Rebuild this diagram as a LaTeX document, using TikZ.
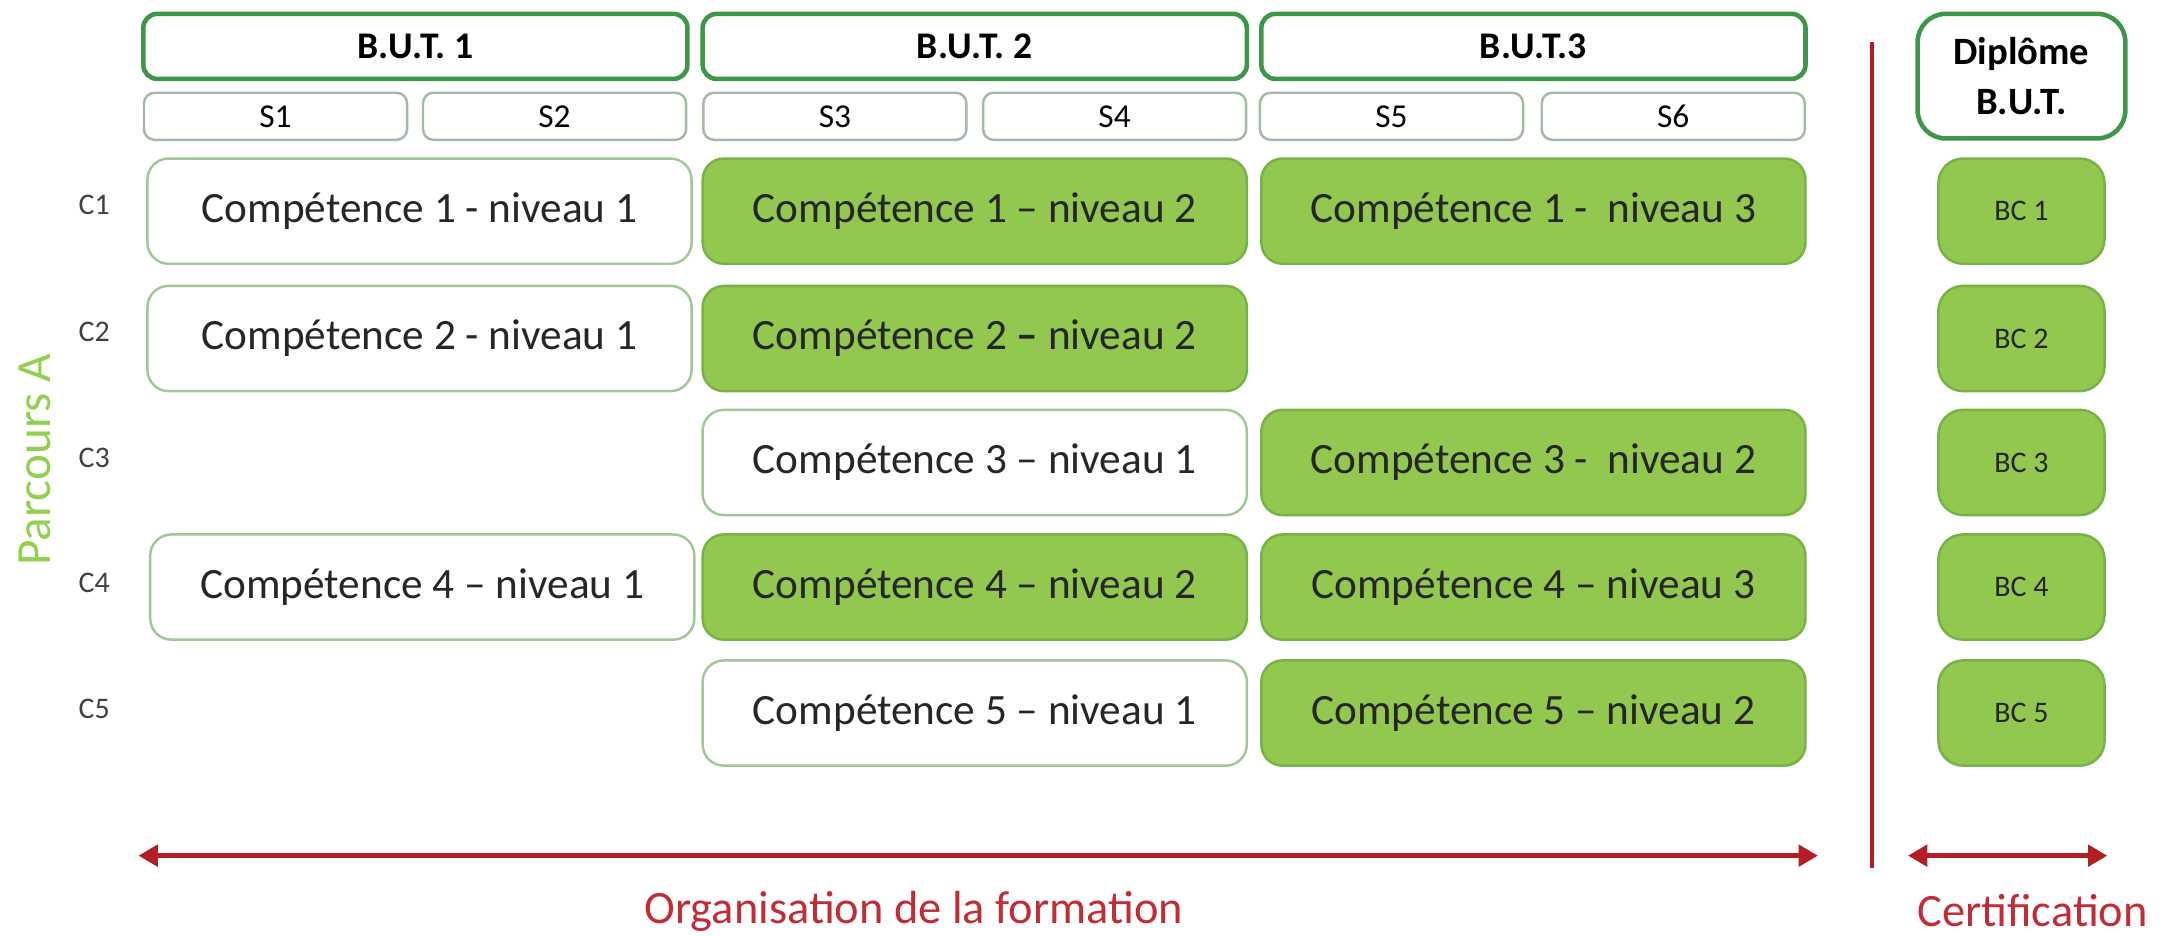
\documentclass[tikz,border=0pt]{standalone}
\usepackage{fontspec}
\setmainfont{Carlito}
\usepackage{xcolor}
\usetikzlibrary{positioning, arrows.meta}
\newcommand{\upx}{0.013846cm}
\definecolor{vertplein}{RGB}{146,200,80}
\definecolor{vertbord}{RGB}{118,178,70}
\definecolor{vertfonce}{RGB}{62,150,72}
\definecolor{vertpale}{RGB}{160,200,150}
\definecolor{grisvert}{RGB}{165,185,165}
\definecolor{rouge}{RGB}{178,30,35}
\definecolor{rougetexte}{RGB}{192,45,55}
\definecolor{parcours}{RGB}{146,208,80}
\tikzset{
	annee/.style={draw=vertfonce, line width=1.3pt, rounded corners=4pt, inner sep=0pt,
		minimum width=393*\upx, minimum height=47*\upx, font=\fontsize{10.7}{12}\selectfont\bfseries},
	sem/.style={draw=grisvert, line width=.7pt, rounded corners=3pt, inner sep=0pt,
		minimum width=190*\upx, minimum height=34*\upx, font=\fontsize{9.5}{11}\selectfont},
	niv/.style={draw=vertpale, line width=.7pt, rounded corners=6pt, fill=white, inner sep=0pt, text=black!85,
		minimum width=393*\upx, minimum height=76*\upx, font=\fontsize{12.3}{14}\selectfont},
	nivok/.style={niv, draw=vertbord, fill=vertplein},
	bc/.style={nivok, rounded corners=7pt, minimum width=120*\upx, font=\fontsize{8.5}{10}\selectfont},
	comp/.style={font=\fontsize{8.5}{10}\selectfont, text=black!75},
	legende/.style={text=rougetexte, inner sep=0pt, font=\fontsize{13.2}{15}\selectfont},
	fleche/.style={draw=rouge, line width=1.4pt, arrows={Triangle[length=5.5pt,width=6pt]-Triangle[length=5.5pt,width=6pt]}}
}

\begin{document}
\begin{tikzpicture}[x=\upx, y=-\upx]
	\useasboundingbox (0,0) rectangle (1568,676);
	% annees et semestres
	\node[annee] (but1) at (300,33.5) {B.U.T. 1};
	\node[annee] (but2) at (704,33.5) {B.U.T. 2};
	\node[annee] (but3) at (1107.5,33.5) {B.U.T.3};
	\node[sem] (s1) at (199,84) {S1};
	\node[sem] (s2) at (400.5,84) {S2};
	\node[sem] (s3) at (603,84) {S3};
	\node[sem] (s4) at (805,84) {S4};
	\node[sem] (s5) at (1005,84) {S5};
	\node[sem] (s6) at (1208.5,84) {S6};
	\node[annee, rounded corners=8pt, minimum width=150*\upx, minimum height=90*\upx, align=center,
		font=\fontsize{11}{14}\selectfont\bfseries] (dip) at (1460,55) {Diplôme\\B.U.T.};
	% competences
	\node[comp] (c1) at (68,148) {C1};
	\node[comp] (c2) at (68,240) {C2};
	\node[comp] (c3) at (68,331) {C3};
	\node[comp] (c4) at (68,421) {C4};
	\node[comp] (c5) at (68,512) {C5};
	\node[rotate=90, text=parcours, font=\fontsize{14}{16}\selectfont] (parc) at (25,332) {Parcours A};
	\node[niv] (c1n1) at (303,152.5) {Compétence 1 - niveau 1};
	\node[nivok] (c1n2) at (704,152.5) {Compétence 1 – niveau 2};
	\node[nivok] (c1n3) at (1107.5,152.5) {Compétence 1 -\ \ niveau 3};
	\node[niv] (c2n1) at (303,244.5) {Compétence 2 - niveau 1};
	\node[nivok] (c2n2) at (704,244.5) {Compétence 2 \textbf{–} niveau 2};
	\node[niv] (c3n1) at (704,334) {Compétence 3 – niveau 1};
	\node[nivok] (c3n2) at (1107.5,334) {Compétence 3 -\ \ niveau 2};
	\node[niv] (c4n1) at (305,424) {Compétence 4 – niveau 1};
	\node[nivok] (c4n2) at (704,424) {Compétence 4 – niveau 2};
	\node[nivok] (c4n3) at (1107.5,424) {Compétence 4 – niveau 3};
	\node[niv] (c5n1) at (704,515) {Compétence 5 – niveau 1};
	\node[nivok] (c5n2) at (1107.5,515) {Compétence 5 – niveau 2};
	% blocs de competences
	\node[bc] (bc1) at (1460,152.5) {BC 1};
	\node[bc] (bc2) at (1460,244.5) {BC 2};
	\node[bc] (bc3) at (1460,334) {BC 3};
	\node[bc] (bc4) at (1460,424) {BC 4};
	\node[bc] (bc5) at (1460,515) {BC 5};
	% separation et fleches
	\coordinate (haut) at (1352,30);
	\coordinate (bas) at (1352,627);
	\draw[rouge, line width=1.2pt] (haut) -- (bas);
	\coordinate (f1g) at (100,618);
	\coordinate (f1d) at (1313,618);
	\coordinate (f2g) at (1378,618);
	\coordinate (f2d) at (1522,618);
	\draw[fleche] (f1g) -- (f1d);
	\draw[fleche] (f2g) -- (f2d);
	\node[legende] (orga) at (660,658) {Organisation de la formation};
	\node[legende] (certif) at (1468,658) {Certification};
\end{tikzpicture}
\end{document}
